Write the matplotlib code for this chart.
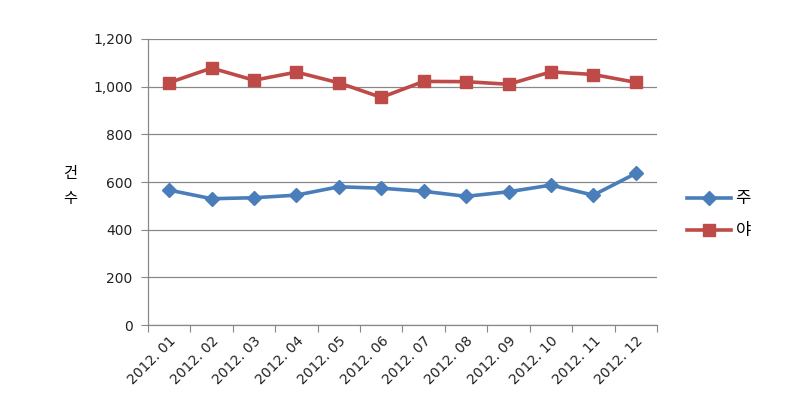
import matplotlib
matplotlib.use("Agg")
import matplotlib.pyplot as plt
import numpy as np

plt.rcParams['font.family'] = ['DejaVu Sans', 'Noto Sans CJK KR']

categories = ["2012. 01", "2012. 02", "2012. 03", "2012. 04", "2012. 05", "2012. 06",
              "2012. 07", "2012. 08", "2012. 09", "2012. 10", "2012. 11", "2012. 12"]
day_values = [566, 530, 534, 545, 580, 574, 561, 540, 559, 587, 545, 636]
night_values = [1017, 1078, 1027, 1061, 1016, 955, 1022, 1021, 1010, 1062, 1051, 1018]
series_names = ["주", "야"]
y_ticks = [0, 200, 400, 600, 800, 1000, 1200]
y_label = "건\n수"

fig = plt.figure(figsize=(8.10, 4.13), dpi=100)
ax = fig.add_axes([0.1827, 0.213, 0.8111 - 0.1827, 0.9056 - 0.213])

x = np.arange(len(categories))
ax.plot(x, day_values, color="#4A7EBB", lw=2.6, marker="D", markersize=7,
        label=series_names[0], zorder=3)
ax.plot(x, night_values, color="#BE4B48", lw=2.6, marker="s", markersize=8,
        label=series_names[1], zorder=3)

ax.set_xlim(-0.5, len(categories) - 0.5)
ax.set_ylim(0, 1200)
ax.set_yticks(y_ticks)
ax.set_yticklabels([f"{v:,}" for v in y_ticks], fontsize=10, color="#222222")
ax.yaxis.grid(True, color="#888888", lw=0.9)
ax.set_axisbelow(True)

ax.set_xticks(np.arange(len(categories) + 1) - 0.5)
ax.set_xticklabels([])
ax.set_xticks(x, minor=True)
ax.set_xticklabels(categories, minor=True, rotation=45, ha="right",
                   rotation_mode="anchor", fontsize=10, color="#222222")
ax.tick_params(axis="x", which="minor", length=0, pad=6)
ax.tick_params(axis="x", which="major", length=5, color="#888888", direction="out")
ax.tick_params(axis="y", length=5, color="#888888", direction="out", pad=6)

for s in ["top", "right"]:
    ax.spines[s].set_visible(False)
for s in ["left", "bottom"]:
    ax.spines[s].set_color("#888888")
    ax.spines[s].set_linewidth(0.9)

fig.text(0.087, 0.55, y_label, fontsize=11, ha="center", va="center",
         family=['Noto Sans CJK KR', 'DejaVu Sans'], linespacing=1.6)

leg = ax.legend(loc="center left", bbox_to_anchor=(1.03, 0.385), frameon=False,
                prop={'family': ['Noto Sans CJK KR', 'DejaVu Sans'], 'size': 12},
                handlelength=2.6, labelspacing=0.9, handletextpad=0.3)

fig.savefig("out.png", dpi=100)
